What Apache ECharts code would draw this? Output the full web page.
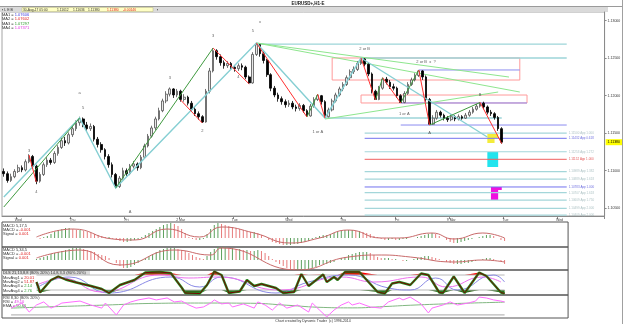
<!DOCTYPE html>
<html><head><meta charset="utf-8">
<script src="https://cdn.jsdelivr.net/npm/echarts@6/dist/echarts.min.js"></script>
<style>html,body{margin:0;padding:0;background:#fff}#c{width:625px;height:324px}</style>
</head><body><div id="c"></div>
<script>
// ---------- axis ticks ----------
const tickIndex = [4,19,34,49,64,79,94,109,124,139,154];
const tickLabels = ["Wed","Thu","Fri","2 Mar","Tue","Wed","Thu","Fri","9 Mar","Tue","Wed"];
const priceTicks = [1.105,1.110,1.115,1.120,1.125,1.130];
const mainCount = 167, subCount = 156;

// ---------- candles ----------
const firstOpen = 1.10990;
const closes = [1.10960,1.10870,1.10920,1.10990,1.11040,1.11010,1.11120,1.11190,1.11060,1.10860,
1.10950,1.11080,1.11140,1.11110,1.11230,1.11310,1.11400,1.11370,1.11480,1.11560,
1.11640,1.11690,1.11610,1.11560,1.11590,1.11420,1.11350,1.11280,1.11190,1.11080,
1.10950,1.10790,1.10900,1.11000,1.10960,1.11060,1.11090,1.11040,1.11180,1.11330,
1.11460,1.11570,1.11690,1.11800,1.11930,1.12020,1.12090,1.12010,1.12060,1.11950,
1.11980,1.11900,1.11820,1.11760,1.11720,1.11650,1.12060,1.12330,1.12600,1.12520,
1.12440,1.12400,1.12430,1.12380,1.12360,1.12400,1.12380,1.12250,1.12170,1.12550,
1.12680,1.12560,1.12470,1.12280,1.12100,1.12010,1.11960,1.11920,1.11880,1.11900,
1.11850,1.11830,1.11870,1.11800,1.11730,1.11860,1.11950,1.12000,1.11920,1.11720,
1.11810,1.11930,1.12010,1.12090,1.12150,1.12240,1.12320,1.12350,1.12430,1.12490,
1.12420,1.12290,1.12060,1.11950,1.12100,1.12220,1.12180,1.12120,1.12100,1.12000,
1.11910,1.12030,1.12150,1.12210,1.12270,1.12330,1.12250,1.11950,1.11620,1.11700,
1.11780,1.11740,1.11700,1.11680,1.11720,1.11690,1.11720,1.11700,1.11740,1.11780,
1.11820,1.11860,1.11900,1.11850,1.11780,1.11760,1.11710,1.11560,1.11380];
const highs = [1.11030,1.10990,1.10960,1.11020,1.11080,1.11070,1.11150,1.11220,1.11210,1.11080,
1.10980,1.11110,1.11180,1.11170,1.11260,1.11340,1.11440,1.11450,1.11510,1.11600,
1.11670,1.11720,1.11710,1.11650,1.11630,1.11610,1.11450,1.11380,1.11300,1.11220,
1.11110,1.10970,1.10930,1.11040,1.11030,1.11090,1.11130,1.11110,1.11210,1.11360,
1.11490,1.11600,1.11720,1.11840,1.11960,1.12060,1.12110,1.12100,1.12090,1.12080,
1.12020,1.12000,1.11930,1.11850,1.11790,1.11740,1.12090,1.12370,1.12636,1.12620,
1.12550,1.12470,1.12460,1.12450,1.12410,1.12430,1.12430,1.12400,1.12270,1.12580,
1.12703,1.12690,1.12590,1.12490,1.12300,1.12130,1.12040,1.11990,1.11950,1.11940,
1.11930,1.11880,1.11900,1.11890,1.11820,1.11890,1.11980,1.12020,1.12010,1.11940,
1.11840,1.11960,1.12040,1.12120,1.12180,1.12270,1.12350,1.12390,1.12460,1.12503,
1.12500,1.12440,1.12310,1.12080,1.12130,1.12240,1.12250,1.12210,1.12160,1.12120,
1.12020,1.12060,1.12180,1.12240,1.12300,1.12343,1.12340,1.12270,1.11970,1.11740,
1.11810,1.11800,1.11760,1.11730,1.11750,1.11740,1.11750,1.11740,1.11770,1.11810,
1.11850,1.11890,1.11910,1.11920,1.11870,1.11810,1.11780,1.11730,1.11580];
const lows = [1.10920,1.10840,1.10850,1.10900,1.10970,1.10980,1.10990,1.11100,1.11030,1.10820,
1.10840,1.10930,1.11050,1.11080,1.11090,1.11200,1.11290,1.11330,1.11350,1.11450,
1.11530,1.11600,1.11580,1.11520,1.11530,1.11390,1.11310,1.11240,1.11150,1.11040,
1.10910,1.10765,1.10770,1.10880,1.10930,1.10940,1.11030,1.11000,1.11020,1.11160,
1.11310,1.11440,1.11540,1.11670,1.11780,1.11900,1.11990,1.11970,1.11980,1.11920,
1.11920,1.11870,1.11790,1.11730,1.11680,1.11636,1.11640,1.12030,1.12310,1.12480,
1.12400,1.12360,1.12370,1.12350,1.12320,1.12330,1.12340,1.12220,1.12156,1.12160,
1.12530,1.12520,1.12430,1.12250,1.12060,1.11980,1.11920,1.11880,1.11840,1.11850,
1.11820,1.11790,1.11800,1.11770,1.11716,1.11720,1.11840,1.11930,1.11880,1.11703,
1.11710,1.11790,1.11910,1.11990,1.12060,1.12130,1.12210,1.12290,1.12330,1.12410,
1.12390,1.12260,1.12030,1.11943,1.11940,1.12080,1.12150,1.12090,1.12070,1.11970,
1.11903,1.11900,1.12010,1.12130,1.12190,1.12250,1.12210,1.11920,1.11609,1.11610,
1.11680,1.11710,1.11670,1.11650,1.11660,1.11660,1.11670,1.11680,1.11690,1.11720,
1.11760,1.11800,1.11840,1.11820,1.11750,1.11730,1.11680,1.11530,1.11360];

// ---------- pattern drawing (bar index, price) ----------
const tealZigzag = [[0,1.10649],[21,1.11703],[31,1.10769],[70,1.12703],[89,1.11703],[99,1.12503]];
const tealProjection = [[99,1.12503],[134,1.11449]];
const greenLegs = [
  [[0,1.10516],[21,1.11703]],
  [[31,1.10769],[58,1.12636]],
  [[84,1.11716],[87,1.12020]],
  [[103,1.11943],[105,1.12240]],
  [[110,1.11903],[115,1.12343]],
  [[118,1.11609],[132,1.11910]]
];
const redLegs = [
  [[7,1.11209],[9,1.10849]],
  [[49,1.11943],[55,1.11636]],
  [[58,1.12636],[68,1.12156]],
  [[70,1.12703],[84,1.11716]],
  [[87,1.12020],[89,1.11703]],
  [[99,1.12503],[103,1.11943]],
  [[105,1.12240],[110,1.11903]],
  [[115,1.12343],[118,1.11609]],
  [[132,1.11910],[138,1.11360]]
];
const fanLines = [
  [[70,1.12703],[140,1.12249]],
  [[70,1.12703],[143,1.12049]],
  [[89,1.11689],[137,1.12049]]
];
const tealHorizontals = [
  [[70,1.12689],[156,1.12689]],
  [[99,1.12503],[156,1.12503]],
  [[89,1.11703],[138,1.11703]]
];
const purpleHorizontals = [
  [[115,1.12343],[143,1.12343]],
  [[110,1.11903],[145,1.11903]],
  [[110,1.11609],[156,1.11609]]
];
const boxes = [
  [[91,1.12503],[143,1.12503],[143,1.12209],[91,1.12209],[91,1.12503]],
  [[99,1.12009],[145,1.12009],[145,1.11903],[99,1.11903],[99,1.12009]]
];

// ---------- projection levels ----------
const levelStart = 100, levelEnd = 156;
const tealLevels = [1.11500,1.11253,1.10989,1.10889,1.10707,1.10609,1.10499,1.10409];
const tealRatios = ["1.000","1.272","1.382","1.618","1.618","1.750","2.000","2.000"];
const blueLevels = [1.11432,1.10783];
const blueRatios = ["0.618","1.000"];
const redLevels = [1.11152];
const redRatios = ["1.000"];

// target zones: [i1, i2, price1, price2]
const yellowZones = [[134,137,1.11489,1.11436],[134,136,1.11436,1.11369]];
const cyanZones = [[134,137,1.11249,1.11049]];
const magentaZones = [[135,138,1.10783,1.10743],[135,137,1.10743,1.10609]];

// ---------- wave labels ----------
const annoI = [7,9,21,22,35,46,55,58,65,69,71,100,117,87,111,118,132];
const annoP = [1.11263,1.10716,1.12036,1.11836,1.10449,1.12236,1.11529,1.12796,1.12249,1.12863,1.12983,1.12623,1.12449,1.11516,1.11756,1.11503,1.12009];
const annoT = ["3","4","a","5","A","3","2","3","4","5","x","2 or B","2 or B  x  ?","1 or A","1 or A","A","B"];

// ---------- MACD 5,17,5 (bars 9..138) ----------
const macdStart = 9;
const macd1Hist = [0,-1,1,2,
4,6,8,9,10,10,9,8,8,7,6,5,4,3,2,1,1,
-1,-2,-3,-4,-4,-3,-2,-1,
1,3,5,7,9,11,13,14,15,14,12,9,5,
1,-1,-2,-2,-1,
4,9,13,15,14,13,12,11,
10,9,8,7,6,6,5,3,
0,-2,-4,-5,-6,-7,-7,-7,-6,-6,-5,-4,-3,-1,
1,2,3,3,4,5,6,7,8,8,8,7,7,6,5,4,2,1,
-1,-2,-2,-1,-2,-2,-1,-1,0,0,1,2,3,
4,5,4,2,0,
-2,-4,-5,-5,-4,-3,-2,-1,0,
1,2,3,3,2,0,
-2,-3];
const macd1Signal = [[9,1],[19,9],[30,-1],[36,-2],[45,9],[54,1],[60,11],[69,5],[79,-5],[87,0],[95,8],[104,0],[109,0],[118,5],[124,-1],[132,5],[138,0]];

// ---------- MACD 5,34,5 ----------
const macd2Hist = [1,2,3,4,
6,7,8,9,10,11,12,12,12,11,10,9,8,6,5,4,2,
0,-3,-6,-8,-8,-7,-5,-3,
-1,2,4,6,8,10,11,12,12,12,11,10,9,
7,5,3,2,1,
4,8,11,13,13,13,12,12,
11,11,10,10,9,9,10,9,
7,4,1,-2,-4,-6,-8,-9,-10,-10,-10,-9,-9,-8,
-7,-5,-4,-4,-3,-2,0,2,3,5,6,7,8,8,8,7,5,3,
2,2,2,1,1,0,-1,-1,0,1,2,3,4,
4,3,2,1,0,
-2,-3,-4,-4,-4,-3,-3,-2,-1,
0,1,2,2,1,0,
-2,-4];
const macd2Signal = [[9,2],[21,10],[32,-5],[47,10],[57,5],[60,12],[81,-10],[95,3],[104,5],[112,3],[124,-2],[132,0],[138,-2]];

// ---------- DLS oscillator ----------
const dlsFast = [[9,52],[10,10],[13,60],[15,74],[17,62],[20,50],[24,36],[27,24],[29,8],[32,40],[36,60],[39,90],[43,92],[46,88],[49,30],[50,8],[54,6],[56,40],[58,94],[60,80],[62,8],[65,14],[67,60],[69,36],[71,44],[75,28],[77,8],[80,12],[82,84],[84,36],[88,82],[89,52],[91,72],[92,60],[94,92],[98,92],[103,12],[105,6],[107,46],[109,52],[112,40],[115,86],[117,80],[120,10],[121,8],[124,74],[127,8],[131,90],[133,76],[137,10],[138,6]];
const dlsSlowBlue = [[9,28],[18,72],[29,8],[46,72],[54,32],[60,72],[75,8],[84,52],[95,80],[106,28],[112,20],[119,68],[125,20],[135,80],[138,52]];
const dlsSlowMagenta = [[9,40],[13,60],[16,68],[27,12],[43,80],[51,68],[59,72],[76,20],[93,72],[102,52],[115,72],[122,32],[132,72],[137,52]];
const dlsUpper = 80, dlsLower = 20;

// ---------- RSI ----------
const rsiLine = [[2,45],[5,68],[7,27],[9,59],[11,73],[13,45],[15,59],[16,68],[21,77],[24,59],[27,45],[28,68],[29,50],[31,14],[33,59],[35,73],[37,82],[40,91],[42,82],[45,91],[47,73],[49,77],[51,59],[53,45],[55,50],[57,68],[58,82],[60,64],[62,68],[63,50],[66,64],[69,45],[70,73],[72,59],[74,36],[76,68],[78,45],[81,59],[84,27],[85,68],[87,36],[89,5],[91,36],[93,59],[95,73],[96,59],[98,68],[101,50],[104,45],[106,73],[109,91],[110,82],[112,95],[115,64],[117,23],[118,45],[121,59],[123,73],[125,59],[128,68],[130,77],[131,95],[133,91],[135,82],[137,77],[138,73]];
const rsiEma = [[2,45],[15,52],[30,60],[40,66],[55,68],[68,67],[78,58],[88,48],[96,46],[105,52],[112,58],[125,66],[138,72]];
const rsiLevel = 14;

// ================= build =================
const FONT = 'Liberation Sans';
const cats = Array.from({length: mainCount}, (_, i) => String(i));
const subCats = Array.from({length: subCount}, (_, i) => String(i));
const isTick = (i) => tickIndex.indexOf(i) >= 0;
const opens = closes.map((c, i) => i === 0 ? firstOpen : closes[i - 1]);
const candleData = closes.map((c, i) => [opens[i], c, lows[i], highs[i]]);
const lastClose = closes[closes.length - 1];
const yMin = 1.10396, yMax = 1.13116;

function linesSeries(segs, color, width, xi, yi, z) {
  return {type: 'lines', coordinateSystem: 'cartesian2d', xAxisIndex: xi || 0, yAxisIndex: yi || 0,
    polyline: true, silent: true, z: z || 3,
    lineStyle: {color: color, width: width, opacity: 1},
    data: segs.map(s => ({coords: s}))};
}
function levelSegs(arr) { return arr.map(p => [[levelStart, p], [levelEnd, p]]); }
function levelLabels(arr, ratios, color) {
  return {type: 'scatter', xAxisIndex: 0, yAxisIndex: 0, symbolSize: 0, silent: true, z: 6,
    data: arr.map((p, k) => ({value: [levelEnd, p], label: {formatter: p.toFixed(5) + ' App ' + ratios[k]}})),
    label: {show: true, position: 'right', distance: 2, fontSize: 3, fontFamily: FONT, color: color}};
}
function zoneArea(zones, color) {
  return zones.map(z => [{coord: [z[0], z[2]], itemStyle: {color: color}}, {coord: [z[1], z[3]]}]);
}
const histData = (arr) => arr.map((v, k) => {
  const prev = k > 0 ? arr[k - 1] : v;
  return {value: [macdStart + k, v], itemStyle: {color: v >= prev ? '#5da05d' : '#e77c7c'}};
});

const series = [
  {type: 'candlestick', xAxisIndex: 0, yAxisIndex: 0, data: candleData, barWidth: '60%', z: 4,
   itemStyle: {color: '#e8e8e8', color0: '#000000', borderColor: '#505050', borderColor0: '#000000', borderWidth: 0.8},
   markArea: {silent: true, data: [].concat(zoneArea(yellowZones, '#f4ec3a'), zoneArea(cyanZones, '#22e4ee'), zoneArea(magentaZones, '#f010e0'))}},
  linesSeries(boxes, '#ff9a9a', 1),
  linesSeries(tealHorizontals, '#9dd5d8', 1.3),
  linesSeries(purpleHorizontals, '#8c8cf0', 1),
  linesSeries(levelSegs(tealLevels), '#a4d6da', 1.2),
  linesSeries(levelSegs(blueLevels), '#7272ee', 1),
  linesSeries(levelSegs(redLevels), '#f06060', 1),
  linesSeries(fanLines, '#8ee68e', 1),
  linesSeries([tealZigzag, tealProjection], '#86cfd3', 1.4, 0, 0, 5),
  linesSeries(greenLegs, '#3f9a3f', 1, 0, 0, 5),
  linesSeries(redLegs, '#ff3030', 1, 0, 0, 5),
  levelLabels(tealLevels, tealRatios, '#9ab4b6'),
  levelLabels(blueLevels, blueRatios, '#4a4ad8'),
  levelLabels(redLevels, redRatios, '#e03030'),
  {type: 'scatter', xAxisIndex: 0, yAxisIndex: 0, symbolSize: 0, silent: true, z: 7,
   data: annoI.map((i, k) => [i, annoP[k]]),
   label: {show: true, position: 'inside', fontSize: 4, fontFamily: FONT, color: '#333',
     formatter: (p) => annoT[p.dataIndex]}},
  // MACD 5,17,5
  {type: 'bar', xAxisIndex: 1, yAxisIndex: 2, barWidth: 1, data: histData(macd1Hist), silent: true},
  {type: 'line', xAxisIndex: 1, yAxisIndex: 2, data: macd1Signal, smooth: true, symbol: 'none', silent: true,
   lineStyle: {color: '#c86a6a', width: 1}},
  // MACD 5,34,5
  {type: 'bar', xAxisIndex: 2, yAxisIndex: 3, barWidth: 1, data: histData(macd2Hist), silent: true},
  {type: 'line', xAxisIndex: 2, yAxisIndex: 3, data: macd2Signal, smooth: true, symbol: 'none', silent: true,
   lineStyle: {color: '#c86a6a', width: 1}},
  // DLS
  {type: 'line', xAxisIndex: 3, yAxisIndex: 4, data: [[macdStart, dlsUpper], [138, dlsUpper]], symbol: 'none', silent: true, lineStyle: {color: '#b8b8b8', width: 1}},
  {type: 'line', xAxisIndex: 3, yAxisIndex: 4, data: [[macdStart, dlsLower], [138, dlsLower]], symbol: 'none', silent: true, lineStyle: {color: '#b8b8b8', width: 1}},
  {type: 'line', xAxisIndex: 3, yAxisIndex: 4, data: dlsFast.map(p => [p[0], Math.max(p[1], dlsUpper)]), symbol: 'none', silent: true,
   lineStyle: {width: 0}, areaStyle: {color: '#ff0000', opacity: 1, origin: dlsUpper}},
  {type: 'line', xAxisIndex: 3, yAxisIndex: 4, data: dlsFast.map(p => [p[0], Math.min(p[1], dlsLower)]), symbol: 'none', silent: true,
   lineStyle: {width: 0}, areaStyle: {color: '#2f6a1c', opacity: 1, origin: dlsLower}},
  {type: 'line', xAxisIndex: 3, yAxisIndex: 4, data: dlsSlowBlue, smooth: true, symbol: 'none', silent: true, lineStyle: {color: '#8a8ae6', width: 1}},
  {type: 'line', xAxisIndex: 3, yAxisIndex: 4, data: dlsSlowMagenta, smooth: true, symbol: 'none', silent: true, lineStyle: {color: '#ee72ee', width: 1}},
  {type: 'line', xAxisIndex: 3, yAxisIndex: 4, data: dlsFast, symbol: 'none', silent: true, lineStyle: {color: '#1f8a1f', width: 2.4}},
  {type: 'line', xAxisIndex: 3, yAxisIndex: 4, data: dlsFast, symbol: 'none', silent: true, lineStyle: {color: '#7a0000', width: 1}},
  // RSI
  {type: 'line', xAxisIndex: 4, yAxisIndex: 5, data: [[2, rsiLevel], [138, rsiLevel]], symbol: 'none', silent: true, lineStyle: {color: '#a8a8a8', width: 1}},
  {type: 'line', xAxisIndex: 4, yAxisIndex: 5, data: rsiEma, smooth: true, symbol: 'none', silent: true, lineStyle: {color: '#82b882', width: 1}},
  {type: 'line', xAxisIndex: 4, yAxisIndex: 5, data: rsiLine, symbol: 'none', silent: true, lineStyle: {color: '#ff6cff', width: 1}}
];

const subGrid = (top, h) => ({left: 2, top: top, width: subCount * 606 / mainCount, height: h, show: true, borderColor: '#555', borderWidth: 1});
const subX = (g) => ({type: 'category', gridIndex: g, data: subCats, show: false, boundaryGap: true});
const subY = (g, mn, mx) => ({type: 'value', gridIndex: g, min: mn, max: mx, show: false});

const txt = (x, y, text, extra) => Object.assign({type: 'text', x: x, y: y, silent: true,
  style: Object.assign({text: text, fontSize: 4, fontFamily: FONT, fill: '#333', verticalAlign: 'middle', textVerticalAlign: 'middle'}, extra || {})});
const rich = {r: {fill: '#e02020', color: '#e02020', fontSize: 4, fontFamily: FONT},
  g: {fill: '#2a9a2a', color: '#2a9a2a', fontSize: 4, fontFamily: FONT},
  b: {fill: '#3a3ae0', color: '#3a3ae0', fontSize: 4, fontFamily: FONT},
  m: {fill: '#e030e0', color: '#e030e0', fontSize: 4, fontFamily: FONT},
  k: {fill: '#333', color: '#333', fontSize: 4, fontFamily: FONT}};
const rtxt = (x, y, text) => txt(x, y, text, {rich: rich});

const graphic = [
  {type: 'line', silent: true, shape: {x1: 0, y1: 6.5, x2: 623, y2: 6.5}, style: {stroke: '#9a9a9a', lineWidth: 1}},
  txt(308, 3.5, 'EURUSD+,H1-E', {fontWeight: 'bold', fontSize: 4.5, fill: '#111', align: 'center', textAlign: 'center'}),
  {type: 'rect', silent: true, shape: {x: 0, y: 7, width: 608, height: 5}, style: {fill: '#dadada'}},
  {type: 'rect', silent: true, shape: {x: 22, y: 7.5, width: 131, height: 4}, style: {fill: '#ffffc4', stroke: '#b8b87a', lineWidth: 0.5}},
  txt(2, 9.7, '\u25aa L E B', {fontSize: 3.5}),
  txt(23, 9.7, '30-Aug-17 05:00', {fontSize: 3.3}),
  txt(57, 9.7, '1.11612', {fontSize: 3.3}),
  txt(73, 9.7, '1.11636', {fontSize: 3.3}),
  txt(88, 9.7, '1.11380', {fontSize: 3.3}),
  txt(107, 9.7, '1.11380', {fontSize: 3.3, fill: '#e02020'}),
  txt(123, 9.7, '-0.00146', {fontSize: 3.3, fill: '#e02020'}),
  txt(157, 9.7, '\u25aa', {fontSize: 3.5}),
  rtxt(2, 15, '{k|MA1 = }{b|1.07606}'),
  rtxt(2, 19.3, '{k|MA2 = }{r|1.07602}'),
  rtxt(2, 23.7, '{k|MA3 = }{g|1.07297}'),
  rtxt(2, 28, '{k|MA4 = }{m|1.07371}'),
  {type: 'line', silent: true, shape: {x1: 622.5, y1: 0, x2: 622.5, y2: 324}, style: {stroke: '#a0a0a0', lineWidth: 1}},
  // MACD 1
  txt(3, 225.5, 'MACD 5,17,5'),
  rtxt(3, 229.5, '{k|MACD = }{r|-0.001}'),
  rtxt(3, 233.5, '{k|Signal = }{r|0.001}'),
  // MACD 2
  txt(3, 249.5, 'MACD 5,34,5'),
  rtxt(3, 253.5, '{k|MACD = }{r|-0.001}'),
  rtxt(3, 257.5, '{k|Signal = }{r|0.001}'),
  // DLS
  {type: 'rect', silent: true, shape: {x: 2, y: 271, width: 88, height: 4}, style: {fill: '#dcdcdc'}},
  txt(3, 273, 'DLS 21,13,8,8 (80% 20%) 14,8,3,3 (80% 20%)'),
  rtxt(3, 277.5, '{k|MovAvg1 = }{r|20.01}'),
  rtxt(3, 281.5, '{k|MovAvg2 = }{r|51.87}'),
  rtxt(3, 286, '{k|MovAvg3 = }{g|2.14}'),
  rtxt(3, 290.5, '{k|MovAvg4 = }{g|2.76}'),
  // RSI
  txt(3, 297.7, 'RSI 8,30 (80% 20%)'),
  rtxt(3, 301.7, '{k|RSI = }{m|49.10}'),
  rtxt(3, 305.7, '{k|EMA = }{g|50.66}'),
  txt(313, 321.5, 'Chart created by Dynamic Trader  (c) 1996-2014', {fontSize: 3.5, align: 'center', textAlign: 'center'})
];

const option = {
  animation: false,
  backgroundColor: '#ffffff',
  grid: [
    {left: 2, top: 12, width: 606, height: 204, show: true, borderColor: '#a4a4a4', borderWidth: 1},
    subGrid(222, 25), subGrid(247, 23), subGrid(270, 25), subGrid(295, 23)
  ],
  xAxis: [
    {type: 'category', gridIndex: 0, data: cats, boundaryGap: true,
     axisLine: {show: true, lineStyle: {color: '#8a8a8a', width: 1}},
     axisTick: {show: true, length: 3, interval: (i) => isTick(i), lineStyle: {color: '#8a8a8a'}},
     axisLabel: {show: true, interval: (i) => isTick(i), fontSize: 3.5, fontFamily: FONT, color: '#444', margin: 2,
       formatter: (v, i) => tickLabels[tickIndex.indexOf(i)] || ''},
     splitLine: {show: false}},
    subX(1), subX(2), subX(3), subX(4)
  ],
  yAxis: [
    {type: 'value', gridIndex: 0, position: 'right', min: yMin, max: yMax,
     axisLine: {show: true, lineStyle: {color: '#8a8a8a'}},
     axisTick: {show: true, length: 2, customValues: priceTicks, lineStyle: {color: '#8a8a8a'}},
     axisLabel: {show: true, customValues: priceTicks, formatter: (v) => v.toFixed(5), fontSize: 3.5, fontFamily: FONT, color: '#333', margin: 3},
     splitLine: {show: false}},
    {type: 'value', gridIndex: 0, position: 'right', min: yMin, max: yMax,
     axisLine: {show: false}, axisTick: {show: false}, splitLine: {show: false},
     axisLabel: {show: true, customValues: [lastClose], formatter: (v) => v.toFixed(5), fontSize: 3.5, fontFamily: FONT,
       color: '#000', backgroundColor: '#ffff00', padding: [1, 2], margin: 1}},
    subY(1, -9, 16), subY(2, -10, 13), subY(3, 0, 100), subY(4, 0, 104.5)
  ],
  graphic: graphic,
  series: series
};
const chart = echarts.init(document.getElementById('c'), null, {width: 625, height: 324});
chart.setOption(option);
</script>
</body></html>
